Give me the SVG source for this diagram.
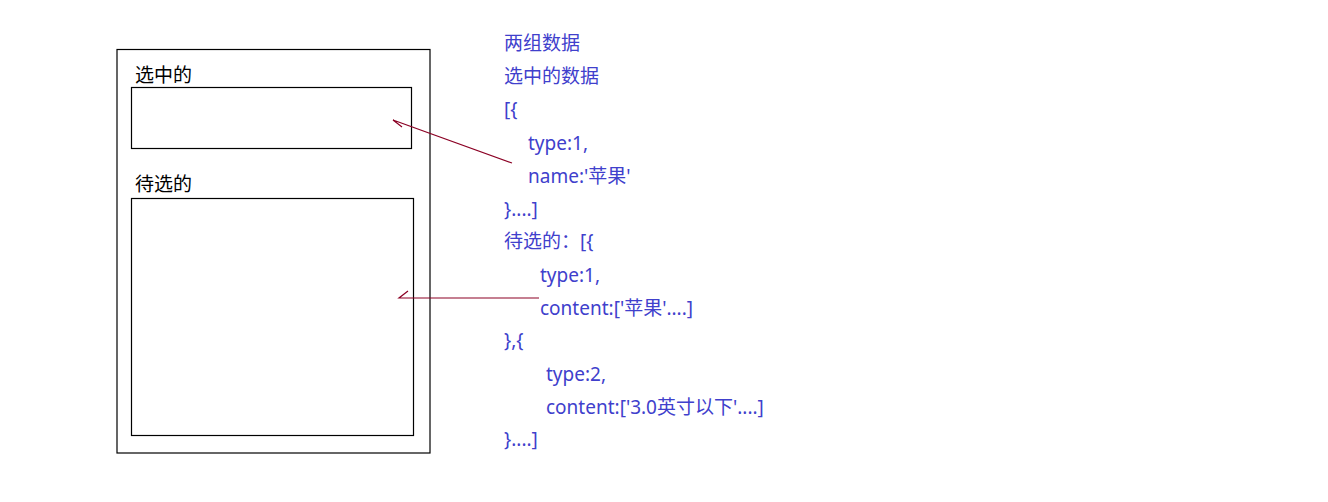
<svg xmlns="http://www.w3.org/2000/svg" width="1328" height="502" viewBox="0 0 1328 502">
<style>
.box{fill:none;stroke:#000;stroke-width:1.2}
.lbl{font-family:"Noto Sans CJK SC","Noto Sans",sans-serif;font-size:19px;fill:#000}
.code{font-family:"Noto Sans","Noto Sans CJK SC",sans-serif;font-size:19px;fill:#4040cc}
.conn{fill:none;stroke:#8b0024;stroke-width:1.2}
</style>
<rect width="1328" height="502" fill="#fff"/>
<g id="outer"><rect class="box" x="117" y="49.5" width="313" height="403.5"/></g>
<g id="selected">
<text class="lbl" x="135" y="82">选中的</text>
<rect class="box" x="131.5" y="87.5" width="280" height="61"/>
</g>
<g id="candidates">
<text class="lbl" x="135" y="191">待选的</text>
<rect class="box" x="131.5" y="198.5" width="282" height="237"/>
</g>
<g id="code">
<text class="code" x="504" y="50">两组数据</text>
<text class="code" x="504" y="83">选中的数据</text>
<text class="code" x="504" y="116">[{</text>
<text class="code" x="528" y="150">type:1,</text>
<text class="code" x="528" y="183">name:'苹果'</text>
<text class="code" x="504" y="216">}....]</text>
<text class="code" x="504" y="248">待选的：[{</text>
<text class="code" x="540" y="282">type:1,</text>
<text class="code" x="540" y="315">content:['苹果'....]</text>
<text class="code" x="504" y="347">},{</text>
<text class="code" x="546" y="381">type:2,</text>
<text class="code" x="546" y="414">content:['3.0英寸以下'....]</text>
<text class="code" x="504" y="446">}....]</text>
</g>
<g id="connectors">
<path class="conn" d="M512,163 L393,120 L402,127"/>
<path class="conn" d="M539,298 L399,298 L408,291"/>
</g>
</svg>
